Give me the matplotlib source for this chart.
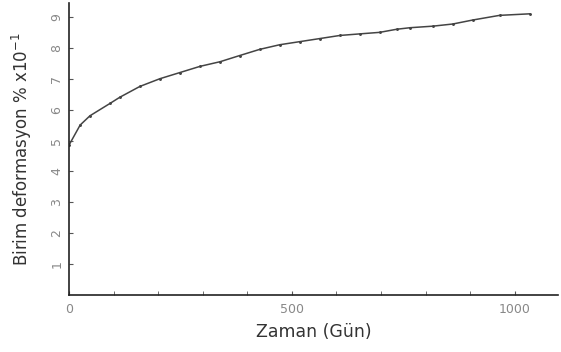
import numpy as np
import matplotlib
matplotlib.use("Agg")
import matplotlib.pyplot as plt
from matplotlib.ticker import MultipleLocator

# creep curve
gun = [0, 25, 47, 92, 114, 159, 204, 249, 294, 339, 383, 428, 473, 518,
       563, 608, 652, 697, 735, 765, 816, 861, 906, 966, 1034]
deformasyon = [4.85, 5.5, 5.8, 6.2, 6.4, 6.75, 7.0, 7.2, 7.4, 7.55, 7.75,
               7.95, 8.1, 8.2, 8.3, 8.4, 8.45, 8.5, 8.6, 8.65, 8.7, 8.77,
               8.9, 9.05, 9.1]

fig = plt.figure(figsize=(5.61, 3.52), dpi=100)
ax = fig.add_axes([69/561, 57/352, 489/561, 292/352])
ax.plot(gun, deformasyon, color="#444444", lw=1.1, marker=".", ms=2.2)

ax.set_xlim(0, 1097)
ax.set_ylim(0, 9.45)
for s in ["top", "right"]:
    ax.spines[s].set_visible(False)
for s in ["left", "bottom"]:
    ax.spines[s].set_color("#222222")
    ax.spines[s].set_linewidth(1.2)

ax.set_xticks([0, 500, 1000])
ax.xaxis.set_minor_locator(MultipleLocator(100))
ax.set_yticks(range(1, 10))
ax.tick_params(axis="both", which="both", direction="in", length=3,
               colors="#555555", labelsize=9, labelcolor="#888888")
ax.tick_params(axis="y", labelrotation=90, pad=4)
ax.tick_params(axis="x", pad=6)
for lab in ax.get_yticklabels():
    lab.set_va("center")

ax.set_xlabel("Zaman (Gün)", fontsize=12.5, color="#333333", labelpad=5)
ax.set_ylabel("Birim deformasyon % x10$^{-1}$", fontsize=12,
              color="#333333", labelpad=12)

fig.savefig("out.png", dpi=100)
